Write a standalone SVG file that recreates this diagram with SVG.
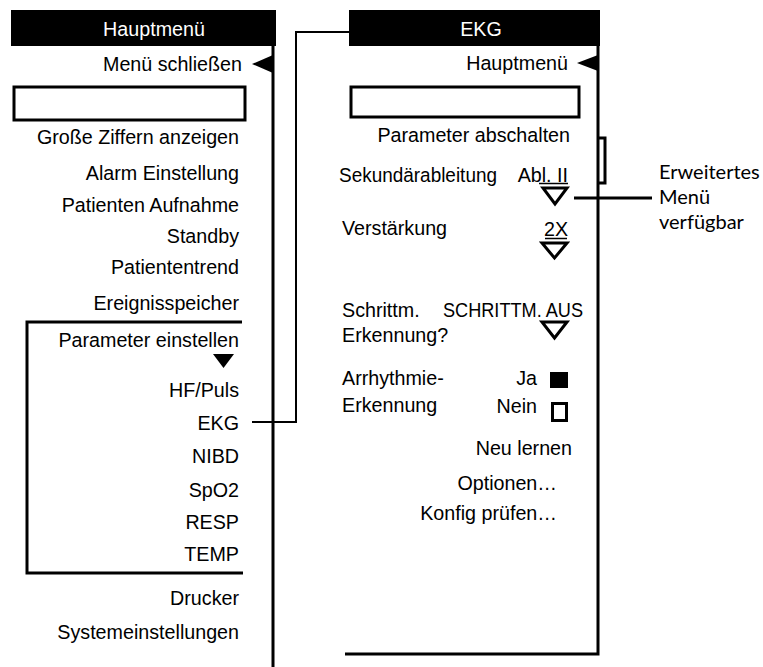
<svg xmlns="http://www.w3.org/2000/svg" width="763" height="667" viewBox="0 0 763 667">
  <style>
    text { font-family: "Liberation Sans", Arial, sans-serif; font-size: 19.7px; fill: #000; }
    .r { text-anchor: end; }
    .hdr { fill: #fff; text-anchor: middle; }
    .note { font-family: Lato, "Open Sans", sans-serif; font-size: 20px; }
    .thick { stroke: #000; stroke-width: 3; fill: none; }
    .thin { stroke: #000; stroke-width: 2; fill: none; }
    .ul { stroke: #000; stroke-width: 1.5; fill: none; }
    .sel { stroke: #000; stroke-width: 3; fill: #fff; }
  </style>

  <rect width="763" height="667" fill="#fff"/>

  <!-- Main menu -->
  <g id="hauptmenue">
    <rect x="11" y="10" width="265" height="36" fill="#000"/>
    <text class="hdr" x="154" y="36">Hauptmenü</text>
    <line class="thick" x1="273" y1="46" x2="273" y2="667"/>
    <polygon points="252,64 273,55 273,73" fill="#000"/>
    <text class="r" x="242" y="71">Menü schließen</text>
    <rect class="thick" x="14" y="87" width="231" height="33"/>
    <text class="r" x="239" y="144">Große Ziffern anzeigen</text>
    <text class="r" x="239" y="180">Alarm Einstellung</text>
    <text class="r" x="239" y="212">Patienten Aufnahme</text>
    <text class="r" x="239" y="243">Standby</text>
    <text class="r" x="239" y="274">Patiententrend</text>
    <text class="r" x="239" y="310">Ereignisspeicher</text>
    <!-- parameter sub group bracket -->
    <polyline class="thick" points="242,322 27,322 27,573 243,573"/>
    <text class="r" x="239" y="347">Parameter einstellen</text>
    <polygon points="213,354 234,354 223.5,368" fill="#000"/>
    <text class="r" x="239" y="397">HF/Puls</text>
    <text class="r" x="239" y="430">EKG</text>
    <text class="r" x="239" y="463">NIBD</text>
    <text class="r" x="239" y="497">SpO2</text>
    <text class="r" x="239" y="529">RESP</text>
    <text class="r" x="239" y="561">TEMP</text>
    <text class="r" x="239" y="605">Drucker</text>
    <text class="r" x="239" y="639">Systemeinstellungen</text>
  </g>

  <!-- EKG menu -->
  <g id="ekg-menue">
    <rect x="349" y="10" width="251" height="36" fill="#000"/>
    <text class="hdr" x="481" y="36">EKG</text>
    <polyline class="thick" points="598,46 598,654 345,654"/>
    <polygon points="577,63 598,55 598,71" fill="#000"/>
    <text class="r" x="568" y="70">Hauptmenü</text>
    <rect class="thick" x="351" y="87" width="228" height="30"/>
    <text class="r" x="570" y="142">Parameter abschalten</text>
    <polyline class="thick" points="598,138 605,138 605,183 598,183"/>

    <text x="339" y="182" textLength="158" lengthAdjust="spacingAndGlyphs">Sekundärableitung</text>
    <text class="r" x="568" y="182">Abl. II</text>
    <line class="ul" x1="539" y1="183.5" x2="568" y2="183.5"/>
    <polygon class="sel" points="543,188 567,188 555,204"/>

    <text x="342" y="235">Verstärkung</text>
    <text x="544" y="236">2X</text>
    <line class="ul" x1="545" y1="238.5" x2="567" y2="238.5"/>
    <polygon class="sel" points="542,243 567,243 554.5,258"/>

    <text x="342" y="317">Schrittm.</text>
    <text x="342" y="342">Erkennung?</text>
    <text x="443" y="317" textLength="140" lengthAdjust="spacingAndGlyphs">SCHRITTM. AUS</text>
    <polygon class="sel" points="542,322 567,322 554.5,338"/>

    <text x="342" y="385">Arrhythmie-</text>
    <text x="342" y="412">Erkennung</text>
    <text class="r" x="537" y="385">Ja</text>
    <rect x="550" y="372" width="18" height="16" fill="#000"/>
    <text class="r" x="537" y="413">Nein</text>
    <rect class="thick" x="552.5" y="403.5" width="14" height="17"/>

    <text class="r" x="572" y="455">Neu lernen</text>
    <text class="r" x="557" y="490">Optionen…</text>
    <text class="r" x="557" y="520">Konfig prüfen…</text>
  </g>

  <!-- Callout -->
  <g id="erweitert">
    <text class="note" x="659" y="179">Erweitertes</text>
    <text class="note" x="659" y="204">Menü</text>
    <text class="note" x="659" y="229">verfügbar</text>
  </g>

  <!-- Connectors -->
  <g id="connectors">
    <polyline class="thin" points="252,422 296,422 296,32 349,32"/>
    <line class="thick" x1="574" y1="198" x2="652" y2="198"/>
  </g>
</svg>
